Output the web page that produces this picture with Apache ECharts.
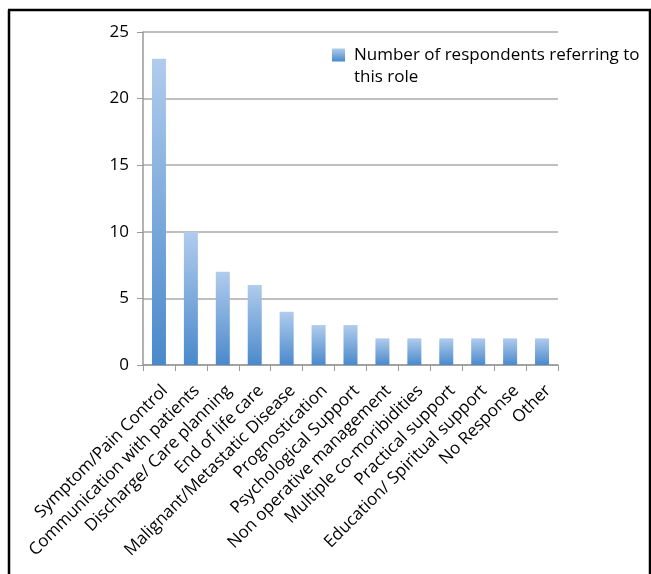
<!DOCTYPE html>
<html>
<head>
<meta charset="utf-8">
<script src="https://cdn.jsdelivr.net/npm/echarts@6/dist/echarts.min.js"></script>
<style>
html,body{margin:0;padding:0;background:#fff;}
#c{width:651px;height:574px;}
</style>
</head>
<body>
<div id="c"></div>
<script>
const categories = ["Symptom/Pain Control","Communication with patients","Discharge/ Care planning","End of life care","Malignant/Metastatic Disease","Prognostication","Psychological Support","Non operative management","Multiple co-moribidities","Practical support","Education/ Spiritual support","No Response","Other"];
const values = [23,10,7,6,4,3,3,2,2,2,2,2,2];
const seriesName = "Number of respondents referring to this role";
const yTicks = {min:0, max:25, interval:5};

const chart = echarts.init(document.getElementById('c'));
const font = "'Open Sans', sans-serif";
chart.setOption({
  animation:false,
  backgroundColor:'#fff',
  textStyle:{fontFamily:font},
  graphic:[
    {type:'line', shape:{x1:9,y1:10,x2:9,y2:574}, style:{stroke:'#000',lineWidth:2.5}},
    {type:'line', shape:{x1:8,y1:10,x2:651,y2:10}, style:{stroke:'#000',lineWidth:2.5}},
    {type:'line', shape:{x1:650,y1:10,x2:650,y2:574}, style:{stroke:'#000',lineWidth:2.5}}
  ],
  legend:{
    left:332, top:44, padding:0, itemWidth:13, itemHeight:35, itemGap:10,
    icon:'path://M0,0h13v13h-13z M0,35h0.01v-0.01h-0.01z',
    itemStyle:{color:new echarts.graphic.LinearGradient(0,0,0,1,[
      {offset:0,color:'#b0cced'},{offset:0.37,color:'#4a89cb'},{offset:1,color:'#4a89cb'}])},
    formatter:()=> 'Number of respondents referring to\nthis role',
    textStyle:{fontFamily:font,fontSize:17,color:'#000',lineHeight:22,padding:[0,0,0,4]},
    data:[seriesName]
  },
  grid:{left:143, top:32, right:93, bottom:209, containLabel:false},
  xAxis:{
    type:'category', data:categories,
    axisLine:{lineStyle:{color:'#999',width:1.5}},
    axisTick:{show:true, length:6, alignWithLabel:false, lineStyle:{color:'#999'}},
    axisLabel:{rotate:45, interval:0, fontFamily:font, fontSize:17, color:'#000', margin:17, verticalAlign:'top'}
  },
  yAxis:{
    type:'value', min:yTicks.min, max:yTicks.max, interval:yTicks.interval,
    axisLine:{show:true, lineStyle:{color:'#999',width:1.5}},
    axisTick:{show:true, inside:false, length:6, lineStyle:{color:'#999'}},
    splitLine:{lineStyle:{color:'#aaa',width:1.5}},
    axisLabel:{fontFamily:font, fontSize:17, color:'#000', margin:14}
  },
  series:[{
    name:seriesName, type:'bar', data:values, barWidth:14,
    itemStyle:{color:new echarts.graphic.LinearGradient(0,0,0,1,[
      {offset:0,color:'#b0cced'},{offset:1,color:'#4a89cb'}])}
  }]
});
</script>
</body>
</html>
